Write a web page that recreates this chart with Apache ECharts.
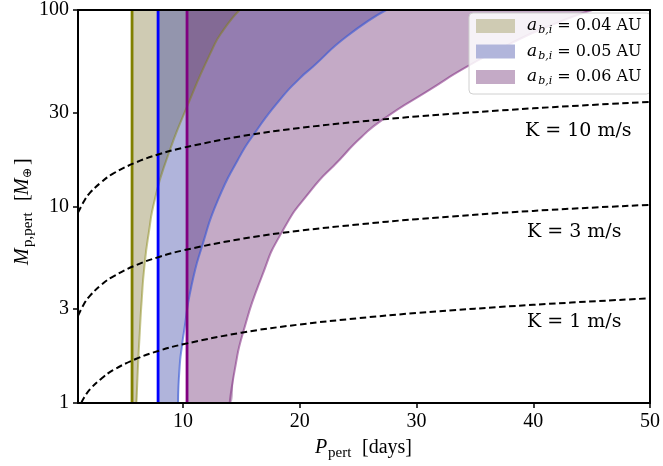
<!DOCTYPE html>
<html>
<head>
<meta charset="utf-8">
<script src="https://cdn.jsdelivr.net/npm/echarts@6/dist/echarts.min.js"></script>
<style>
  html, body { margin: 0; padding: 0; background: #fff; }
  #chart { width: 663px; height: 466px; }
</style>
</head>
<body>
<div id="chart"></div>
<script>
// perturber bands, one per initial semi-major axis of planet b
var bandNames = ['0.04', '0.05', '0.06'];
var bandEdgeP = [5.63, 7.86, 10.34];

var olivePeriod = [6.0, 6.14, 6.29, 6.46, 6.69, 7.06, 7.57, 8.58, 10.34, 12.47, 13.45, 14.85];
var oliveMass   = [1.0, 1.54, 2.27, 3.35, 4.95, 7.32, 10.8, 17.3, 32.2, 62.5, 79.0, 100];

var bluePeriod = [9.57, 9.71, 9.94, 10.06, 10.71, 11.71, 12.99, 14.7, 16.13, 18.27, 20.0, 21.12, 23.98, 27.4];
var blueMass   = [1.0, 1.54, 2.02, 2.27, 3.92, 6.51, 10.8, 17.3, 23.6, 34.8, 44.9, 51.4, 73.1, 100];

var purplePeriod = [13.99, 14.46, 15.13, 16.74, 18.42, 20.92, 23.41, 25.29, 27.26, 31.11, 34.28, 37.96, 41.55, 45.06];
var purpleMass   = [1.0, 1.51, 2.27, 4.39, 7.32, 12.0, 17.3, 22.6, 28.1, 39.2, 51.3, 67.1, 83.8, 100];

// RV semi-amplitude curves
var rvPeriod = [1, 1.5, 2, 3, 4, 6, 8, 10, 15, 20, 25, 30, 40, 50];
var k10Mass  = [9.3, 10.6, 11.7, 13.3, 14.7, 16.8, 18.5, 19.9, 22.8, 25.1, 27.0, 28.7, 31.6, 34.1];
var k3Mass   = [2.78, 3.18, 3.5, 4.0, 4.4, 5.04, 5.55, 5.98, 6.84, 7.53, 8.1, 8.62, 9.5, 10.2];
var k1Period = [1.28, 1.5, 2, 3, 4, 6, 8, 10, 15, 20, 25, 30, 40, 50];
var k1Mass   = [1.0, 1.06, 1.17, 1.33, 1.47, 1.68, 1.85, 1.99, 2.28, 2.51, 2.7, 2.87, 3.16, 3.41];

var kLabels = ['K = 10 m/s', 'K = 3 m/s', 'K = 1 m/s'];
var xTicks = [10, 20, 30, 40, 50];
var yTicks = [1, 3, 10, 30, 100];

var fillColors = ['rgba(135,125,65,0.4)', 'rgba(57,67,165,0.4)', 'rgba(107,42,112,0.4)'];
var legendColors = ['#cfcbb3', '#b1b5db', '#c4aac6'];
var edgeColors = ['#808000', '#0000ff', '#800080'];
var curveColors = ['rgba(128,128,0,0.45)', 'rgba(50,85,215,0.6)', 'rgba(128,40,128,0.55)'];

function zip(a, b) {
  return a.map(function (v, i) { return [v, b[i]]; });
}

var bandP = [olivePeriod, bluePeriod, purplePeriod];
var bandM = [oliveMass, blueMass, purpleMass];

var series = [];
// fills first
for (var i = 0; i < 3; i++) {
  series.push({
    name: bandNames[i],
    type: 'line',
    data: [[bandEdgeP[i], 1]].concat(zip(bandP[i], bandM[i])),
    smooth: 0.6,
    symbol: 'none',
    lineStyle: { width: 0, color: legendColors[i] },
    itemStyle: { color: legendColors[i] },
    areaStyle: { color: fillColors[i], opacity: 1, origin: 100 },
    z: 2
  });
}
// curved boundaries
for (var i = 0; i < 3; i++) {
  series.push({
    name: 'edge' + i,
    type: 'line',
    data: zip(bandP[i], bandM[i]),
    smooth: 0.6,
    symbol: 'none',
    lineStyle: { width: 2, color: curveColors[i] },
    z: 3
  });
}
// vertical lines at the inner edge
for (var i = 0; i < 3; i++) {
  series.push({
    name: 'inner' + i,
    type: 'line',
    data: [[bandEdgeP[i], 1], [bandEdgeP[i], 100]],
    symbol: 'none',
    lineStyle: { width: 2.8, color: edgeColors[i] },
    z: 4
  });
}
// dashed K curves
var kData = [zip(rvPeriod, k10Mass), zip(rvPeriod, k3Mass), zip(k1Period, k1Mass)];
for (var j = 0; j < 3; j++) {
  series.push({
    name: kLabels[j],
    type: 'line',
    data: kData[j],
    smooth: 0.4,
    symbol: 'none',
    lineStyle: { width: 2, color: '#000', type: [6.5, 3.5] },
    z: 5
  });
}

var tickFont = { fontFamily: 'Liberation Serif', fontSize: 20, color: '#000' };
var serif = '"Liberation Serif"';

var chart = echarts.init(document.getElementById('chart'));
chart.setOption({
  animation: false,
  backgroundColor: '#fff',
  grid: { left: 78, right: 12, top: 10, bottom: 63 },
  xAxis: [{
    type: 'value', min: 1, max: 50, z: 10,
    axisLine: { lineStyle: { color: '#000', width: 2 } },
    axisTick: { show: true, length: 5, lineStyle: { color: '#000', width: 1.5 }, customValues: xTicks },
    axisLabel: Object.assign({ margin: 9, customValues: xTicks }, tickFont),
    splitLine: { show: false }
  }, {
    type: 'value', min: 1, max: 50, position: 'top', z: 10,
    axisLine: { lineStyle: { color: '#000', width: 2 } },
    axisTick: { show: false }, axisLabel: { show: false }, splitLine: { show: false }
  }],
  yAxis: [{
    type: 'log', logBase: 10, min: 1, max: 100, z: 10,
    axisLine: { show: true, lineStyle: { color: '#000', width: 2 } },
    axisTick: { show: true, length: 5, lineStyle: { color: '#000', width: 1.5 }, customValues: yTicks },
    axisLabel: Object.assign({ margin: 9, customValues: yTicks, formatter: function (v) { return String(Math.round(v)); } }, tickFont),
    minorTick: { show: false },
    splitLine: { show: false }
  }, {
    type: 'log', logBase: 10, min: 1, max: 100, position: 'right', z: 10,
    axisLine: { show: true, lineStyle: { color: '#000', width: 2 } },
    axisTick: { show: false }, axisLabel: { show: false }, splitLine: { show: false }
  }],
  legend: {
    orient: 'vertical',
    left: 469, top: 13,
    padding: [3, 9, 7, 7],
    itemWidth: 39, itemHeight: 14, itemGap: 5.5,
    backgroundColor: 'rgba(255,255,255,0.85)',
    borderColor: '#d0d0d0', borderWidth: 1, borderRadius: 4,
    selectedMode: false,
    itemStyle: { borderWidth: 0 },
    data: bandNames.map(function (n, i) {
      return { name: n, icon: 'rect', itemStyle: { color: legendColors[i], borderWidth: 0 } };
    }),
    formatter: function (n) { return '{a|a}{s|b,i}{t| = ' + n + ' AU}'; },
    textStyle: {
      padding: [0, 0, 0, 7],
      rich: {
        a: { fontFamily: 'DejaVu Serif', fontStyle: 'italic', fontSize: 17, lineHeight: 20, color: '#000' },
        s: { fontFamily: 'DejaVu Serif', fontStyle: 'italic', fontSize: 11, lineHeight: 12, padding: [9, 0, 0, 1], color: '#000' },
        t: { fontFamily: 'DejaVu Serif', fontSize: 16, lineHeight: 20, color: '#000' }
      }
    }
  },
  graphic: [
    { type: 'text', x: 525, y: 131, z: 20, style: { text: kLabels[0], font: '19px "DejaVu Serif"', fill: '#000', verticalAlign: 'middle' } },
    { type: 'text', x: 527, y: 232, z: 20, style: { text: kLabels[1], font: '19px "DejaVu Serif"', fill: '#000', verticalAlign: 'middle' } },
    { type: 'text', x: 527, y: 322, z: 20, style: { text: kLabels[2], font: '19px "DejaVu Serif"', fill: '#000', verticalAlign: 'middle' } },
    // x axis name
    { type: 'text', x: 315, y: 448, style: { text: 'P', font: 'italic 20px ' + serif, fill: '#000', verticalAlign: 'middle' } },
    { type: 'text', x: 328, y: 453, style: { text: 'pert', font: '15px ' + serif, fill: '#000', verticalAlign: 'middle' } },
    { type: 'text', x: 362, y: 448, style: { text: '[days]', font: '20px ' + serif, fill: '#000', verticalAlign: 'middle' } },
    // y axis name, reads bottom to top
    {
      type: 'group', x: 29, y: 265, rotation: Math.PI / 2,
      children: [
        { type: 'text', x: 0, y: -6, style: { text: 'M', font: 'italic 20px ' + serif, fill: '#000', verticalAlign: 'middle' } },
        { type: 'text', x: 18, y: -1, style: { text: 'p,pert', font: '15px ' + serif, fill: '#000', verticalAlign: 'middle' } },
        { type: 'text', x: 64, y: -6, style: { text: '[', font: '20px ' + serif, fill: '#000', verticalAlign: 'middle' } },
        { type: 'text', x: 70, y: -6, style: { text: 'M', font: 'italic 20px ' + serif, fill: '#000', verticalAlign: 'middle' } },
        { type: 'text', x: 87, y: -1, style: { text: '\u2295', font: '12px "DejaVu Sans"', fill: '#000', verticalAlign: 'middle' } },
        { type: 'text', x: 100, y: -6, style: { text: ']', font: '20px ' + serif, fill: '#000', verticalAlign: 'middle' } }
      ]
    }
  ],
  series: series
});
</script>
</body>
</html>
